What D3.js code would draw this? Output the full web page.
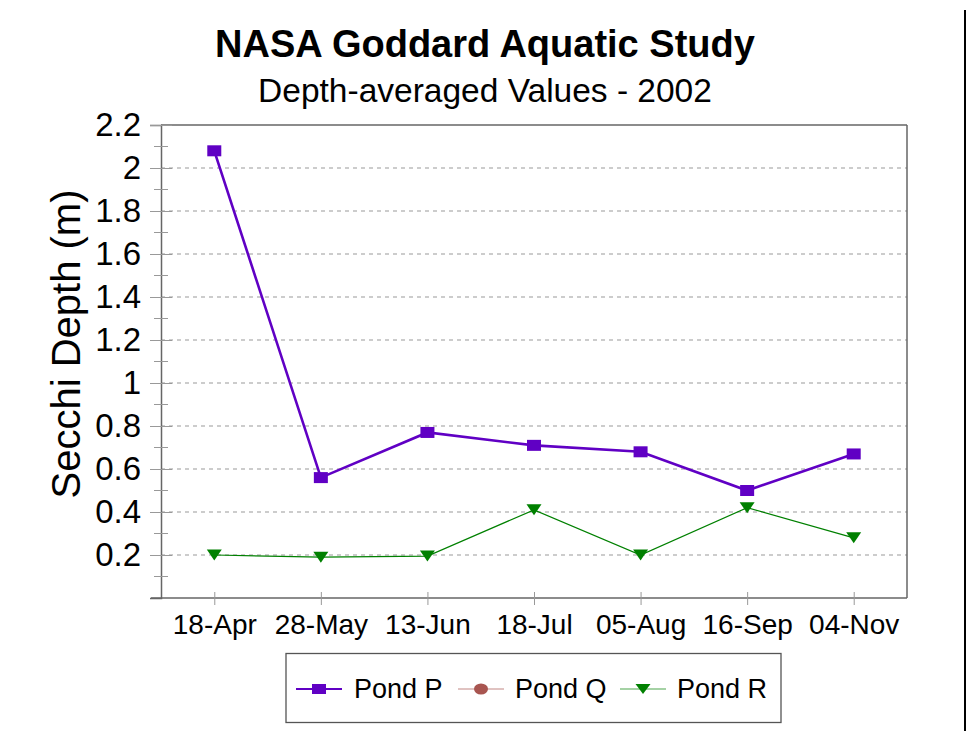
<!DOCTYPE html>
<html><head><meta charset="utf-8">
<script src="https://d3js.org/d3.v7.min.js"></script>
<style>body{margin:0;background:#fff}svg{display:block}text{font-family:"Liberation Sans",Arial,sans-serif}</style>
</head><body><svg id="c" width="966" height="731"></svg>
<script>
const categories = ["18-Apr","28-May","13-Jun","18-Jul","05-Aug","16-Sep","04-Nov"];
const pondP = [2.08, 0.56, 0.77, 0.71, 0.68, 0.50, 0.67];
const pondQ = [];
const pondR = [0.20, 0.19, 0.195, 0.41, 0.20, 0.42, 0.28];
const yTicks = [0.2,0.4,0.6,0.8,1,1.2,1.4,1.6,1.8,2,2.2];
const yMinor = [0.1,0.3,0.5,0.7,0.9,1.1,1.3,1.5,1.7,1.9,2.1];
const seriesNames = ["Pond P","Pond Q","Pond R"];
const colors = {P:"#6000c4", Q:"#a85550", R:"#008000"};

const svg = d3.select("#c");
const L=161, R=907, T=125, B=598;
const x = d3.scalePoint().domain(categories).range([L,R]).padding(0.5);
const y = d3.scaleLinear().domain([0,2.2]).range([B,T]);

// titles
svg.append("text").attr("x",485).attr("y",57).attr("text-anchor","middle")
  .attr("font-size",38).attr("font-weight","bold").text("NASA Goddard Aquatic Study");
svg.append("text").attr("x",485).attr("y",102).attr("text-anchor","middle")
  .attr("font-size",33.5).text("Depth-averaged Values - 2002");

// gridlines
svg.append("g").selectAll("line").data(yTicks.filter(d=>d<2.2)).join("line")
  .attr("x1",L).attr("x2",R).attr("y1",d=>y(d)).attr("y2",d=>y(d))
  .attr("stroke","#999").attr("stroke-dasharray","4,4").attr("stroke-width",1);

// frame
svg.append("line").attr("x1",L).attr("x2",R).attr("y1",T).attr("y2",T).attr("stroke","#666").attr("stroke-width",1.5);
svg.append("line").attr("x1",R).attr("x2",R).attr("y1",T).attr("y2",B).attr("stroke","#666").attr("stroke-width",1.5);

// y axis
const yAxis = d3.axisLeft(y).tickValues(yTicks).tickSize(11).tickPadding(9).tickFormat(d=>d3.format("~g")(d));
const gy = svg.append("g").attr("transform",`translate(${L},0)`).call(yAxis);
gy.select(".domain").attr("stroke","#666").attr("stroke-width",1.5);
gy.selectAll(".tick line").attr("stroke","#999").attr("x2",-11).attr("x1",11);
gy.selectAll(".tick text").attr("font-size",33).attr("fill","#000").attr("font-family","Liberation Sans, Arial, sans-serif");
gy.append("g").selectAll("line").data(yMinor).join("line")
  .attr("x1",-7).attr("x2",7).attr("y1",d=>y(d)).attr("y2",d=>y(d)).attr("stroke","#999");

// x axis
const xAxis = d3.axisBottom(x).tickSize(6).tickPadding(10);
const gx = svg.append("g").attr("transform",`translate(0,${B})`).call(xAxis);
gx.select(".domain").attr("stroke","#666").attr("stroke-width",1.5).attr("d",`M${L-10},0H${R}`);
gx.selectAll(".tick line").attr("stroke","#999").attr("y1",-6).attr("y2",7);
gx.selectAll(".tick text").attr("font-size",28).attr("fill","#000").attr("font-family","Liberation Sans, Arial, sans-serif");

// y label
svg.append("text").attr("transform","translate(80,344) rotate(-90)").attr("text-anchor","middle")
  .attr("font-size",40).text("Secchi Depth (m)");

// series lines
const line = d3.line().x((d,i)=>x(categories[i])).y(d=>y(d));
svg.append("path").datum(pondR).attr("d",line).attr("fill","none").attr("stroke",colors.R).attr("stroke-width",1.2);
svg.append("path").datum(pondP).attr("d",line).attr("fill","none").attr("stroke",colors.P).attr("stroke-width",2.6);

const tri = (cx,cy,w,h)=>`M${cx-w/2},${cy-h/2}L${cx+w/2},${cy-h/2}L${cx},${cy+h/2}Z`;
svg.append("g").selectAll("path").data(pondR).join("path")
  .attr("d",(d,i)=>tri(x(categories[i]),y(d),15,11)).attr("fill",colors.R);
svg.append("g").selectAll("rect").data(pondP).join("rect")
  .attr("x",(d,i)=>x(categories[i])-7).attr("y",d=>y(d)-5.5).attr("width",14).attr("height",11).attr("fill",colors.P);

// legend
svg.append("rect").attr("x",286).attr("y",653.5).attr("width",495).attr("height",69)
  .attr("fill","#fff").attr("stroke","#555").attr("stroke-width",1.3);
const leg = [
  {n:seriesNames[0],c:colors.P,lx:296,tx:354,m:"sq",w:2},
  {n:seriesNames[1],c:colors.Q,lx:458,tx:515,m:"ci",w:1},
  {n:seriesNames[2],c:colors.R,lx:620,tx:677,m:"tr",w:1}
];
const ly=689;
leg.forEach(l=>{
  svg.append("line").attr("x1",l.lx).attr("x2",l.lx+46).attr("y1",ly).attr("y2",ly).attr("stroke",l.c).attr("stroke-width",l.w).attr("opacity",l.m==="sq"?1:0.7);
  const cx=l.lx+23;
  if(l.m==="sq") svg.append("rect").attr("x",cx-7).attr("y",ly-5).attr("width",14).attr("height",10).attr("fill",l.c);
  if(l.m==="ci") svg.append("ellipse").attr("cx",cx).attr("cy",ly).attr("rx",7).attr("ry",5.5).attr("fill",l.c);
  if(l.m==="tr") svg.append("path").attr("d",tri(cx,ly,15,10)).attr("fill",l.c);
  svg.append("text").attr("x",l.tx).attr("y",698).attr("font-size",27).text(l.n);
});

// right edge line
svg.append("line").attr("x1",965).attr("x2",965).attr("y1",10).attr("y2",731).attr("stroke","#000").attr("stroke-width",2);
</script></body></html>
